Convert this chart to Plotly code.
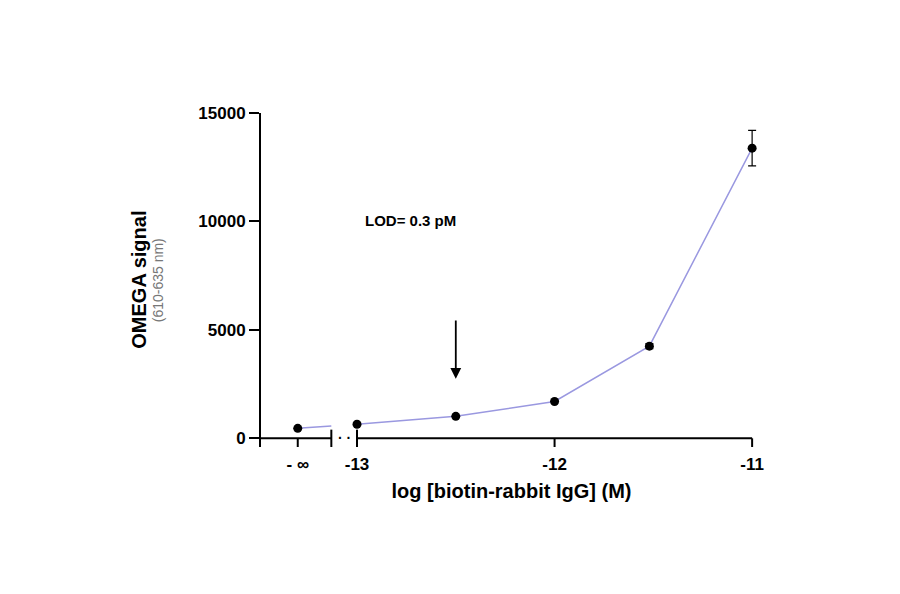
import plotly.graph_objects as go

x_vals = [-13.3, -13.0, -12.5, -12.0, -11.52, -11.0]
y_vals = [460, 650, 1015, 1700, 4250, 13380]
y_err = [0, 0, 0, 0, 120, 820]
tick_vals = [-13.3, -13, -12, -11]
tick_text = ["- ∞", "-13", "-12", "-11"]
break_x = -13.13
lod_x = -12.5
x0 = -13.486

fig = go.Figure()
frac = (break_x - x_vals[0]) / (x_vals[1] - x_vals[0])
fig.add_trace(go.Scatter(x=[x_vals[0], break_x], y=[y_vals[0], y_vals[0] + frac*(y_vals[1]-y_vals[0])],
                         mode="lines", line=dict(color="#9a98e0", width=1.5), cliponaxis=False))
fig.add_trace(go.Scatter(x=x_vals[1:], y=y_vals[1:], mode="lines", line=dict(color="#9a98e0", width=1.5), cliponaxis=False))
fig.add_trace(go.Scatter(x=x_vals, y=y_vals, mode="markers", marker=dict(color="black", size=9),
                         error_y=dict(type="data", array=y_err, color="black", thickness=1.2, width=4),
                         cliponaxis=False))

ax = dict(color="black", width=2)
fig.add_shape(type="line", xref="x", yref="y", x0=x0, x1=break_x, y0=0, y1=0, line=ax, layer="above")
fig.add_shape(type="line", xref="x", yref="y", x0=-13.0, x1=-11.0, y0=0, y1=0, line=ax, layer="above")
fig.add_shape(type="line", xref="x", yref="y", x0=break_x, x1=break_x, y0=-400, y1=400, line=ax, layer="above")
fig.add_shape(type="line", xref="x", yref="y", x0=-13.0, x1=-13.0, y0=-400, y1=400, line=ax, layer="above")
fig.add_annotation(x=(break_x - 13.0)/2, y=0, text="<b>· ·</b>", showarrow=False, font=dict(size=14, color="black"))

fig.add_annotation(x=lod_x, y=2750, ax=lod_x, ay=5500, axref="x", ayref="y", xref="x", yref="y",
                   showarrow=True, arrowhead=2, arrowsize=1.2, arrowwidth=1.8, arrowcolor="black", text="")
fig.add_annotation(x=-12.73, y=10050, text="<b>LOD= 0.3 pM</b>", showarrow=False,
                   font=dict(size=15, color="black"))
fig.add_annotation(x=-0.27, y=0.5, xref="paper", yref="paper", text="<b>OMEGA signal</b>", textangle=-90,
                   showarrow=False, font=dict(size=20, color="black"))
fig.add_annotation(x=-0.225, y=0.5, xref="paper", yref="paper", text="(610-635 nm)", textangle=-90,
                   showarrow=False, font=dict(size=14, color="#777"))

fig.update_layout(
    width=900, height=594, plot_bgcolor="white", paper_bgcolor="white", showlegend=False,
    margin=dict(l=253, r=146, t=105, b=155),
    font=dict(family="Liberation Sans, Arial", color="black"),
    xaxis=dict(range=[x0, -10.95], showgrid=False, zeroline=False, showline=False,
               tickvals=tick_vals, ticktext=["<b>%s</b>" % t for t in tick_text],
               ticks="outside", ticklen=2, tickwidth=2, tickcolor="white", tickfont=dict(size=17),
               title=dict(text="<b>log [biotin-rabbit IgG] (M)</b>", font=dict(size=20), standoff=10)),
    yaxis=dict(range=[-400, 15000], showgrid=False, zeroline=False, showline=True, linecolor="black", linewidth=2,
               tickvals=[0, 5000, 10000, 15000], ticktext=["<b>0</b>", "<b>5000</b>", "<b>10000</b>", "<b>15000</b>"],
               ticks="outside", ticklen=10, tickwidth=2, tickcolor="black", tickfont=dict(size=17)),
)
for tv in tick_vals:
    fig.add_shape(type="line", xref="x", yref="y", x0=tv, x1=tv, y0=0, y1=-700, line=ax, layer="above")
fig.write_html("out.html")
